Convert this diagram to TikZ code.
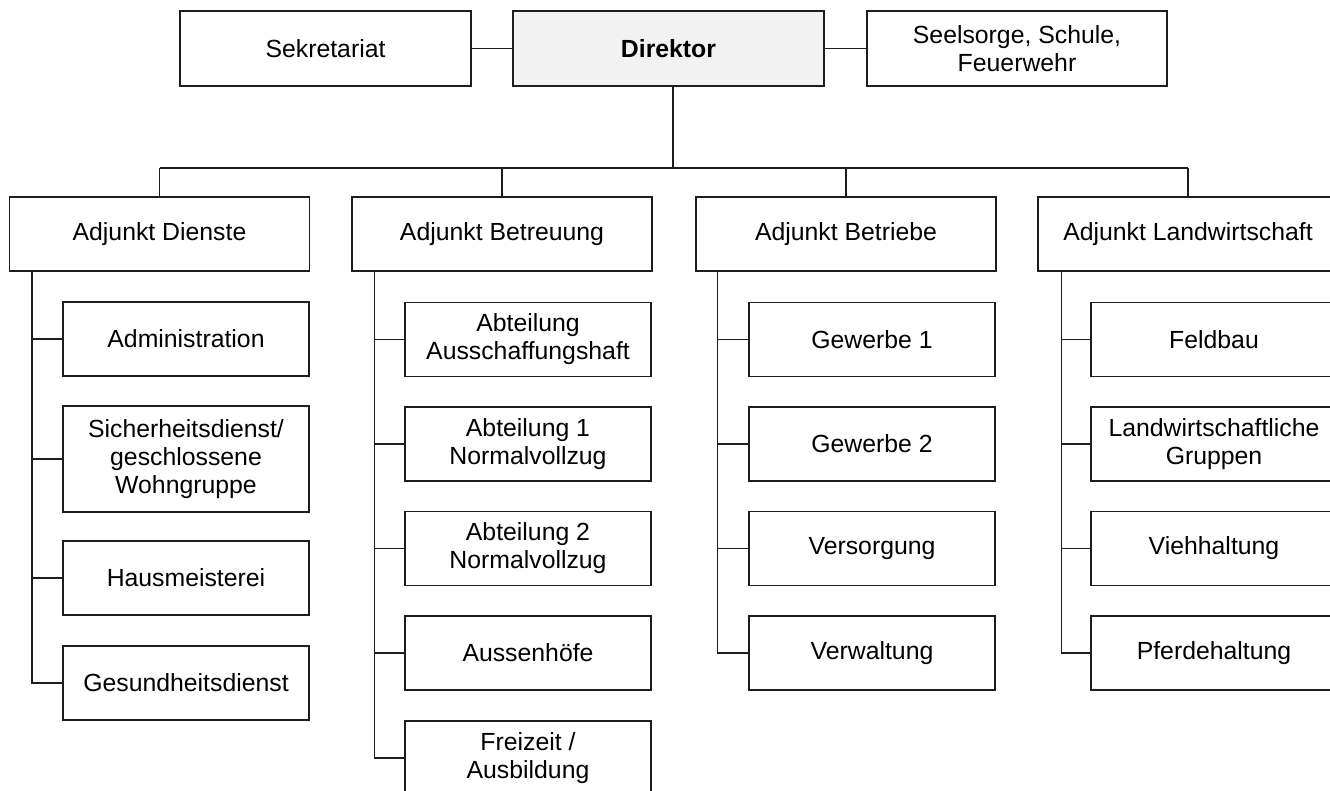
\documentclass[tikz,border=0pt]{standalone}
\usepackage{fontspec}
\setmainfont{Liberation Sans}
\definecolor{linec}{HTML}{1E1E1E}
\definecolor{headfill}{HTML}{F2F2F2}
\tikzset{
	box/.style={draw=linec, line width=1.2pt, fill=white, align=center, inner sep=2pt, minimum width=246pt, minimum height=74pt},
	adjbox/.style={box, minimum width=300pt},
	conn/.style={draw=linec, line width=1.2pt}
}
\begin{document}
\begin{tikzpicture}[x=1pt, y=-1pt, font=\fontsize{24.8}{28}\selectfont, line join=miter]
			\useasboundingbox (0,0) rectangle (1330,790);
			\clip (0,0) rectangle (1330,790);
			\node[box, minimum width=291pt, minimum height=75pt] (sek) at (325.5,48.5) {Sekretariat};
			\node[box, minimum width=311pt, minimum height=75pt, fill=headfill] (dir) at (668.5,48.5) {\bfseries Direktor};
			\node[box, minimum width=300pt, minimum height=75pt] (seel) at (1017,48.5) {Seelsorge, Schule,\\Feuerwehr};
			\draw[conn] (sek) -- (dir);
			\draw[conn] (dir) -- (seel);
			\node[adjbox] (a1) at (159.5,234) {Adjunkt Dienste};
			\node[adjbox] (a2) at (502,234) {Adjunkt Betreuung};
			\node[adjbox] (a3) at (846,234) {Adjunkt Betriebe};
			\node[adjbox] (a4) at (1188,234) {Adjunkt Landwirtschaft};
			\coordinate (bus) at (673,168);
			\draw[conn] (dir.south -| bus) -- (bus);
			\draw[conn] (a1.north |- bus) -- (a4.north |- bus);
			\foreach \n in {a1,a2,a3,a4} \draw[conn] (\n.north) -- (\n.north |- bus);
			\node[box] (d1) at (186,339) {Administration};
			\node[box, minimum height=106pt] (d2) at (186,459) {Sicherheitsdienst/\\geschlossene\\Wohngruppe};
			\node[box] (d3) at (186,578) {Hausmeisterei};
			\node[box] (d4) at (186,683) {Gesundheitsdienst};
			\node[box] (b1) at (528,339.5) {Abteilung\\Ausschaffungshaft};
			\node[box] (b2) at (528,444) {Abteilung 1\\Normalvollzug};
			\node[box] (b3) at (528,548.5) {Abteilung 2\\Normalvollzug};
			\node[box] (b4) at (528,653) {Aussenh\"ofe};
			\node[box] (b5) at (528,758) {Freizeit /\\Ausbildung};
			\node[box] (e1) at (872,339.5) {Gewerbe 1};
			\node[box] (e2) at (872,444) {Gewerbe 2};
			\node[box] (e3) at (872,548.5) {Versorgung};
			\node[box] (e4) at (872,653) {Verwaltung};
			\node[box] (l1) at (1214,339.5) {Feldbau};
			\node[box] (l2) at (1214,444) {Landwirtschaftliche\\Gruppen};
			\node[box] (l3) at (1214,548.5) {Viehhaltung};
			\node[box] (l4) at (1214,653) {Pferdehaltung};
			\coordinate (t1) at ([xshift=23pt]a1.south west);
			\coordinate (t2) at ([xshift=23pt]a2.south west);
			\coordinate (t3) at ([xshift=22pt]a3.south west);
			\coordinate (t4) at ([xshift=24pt]a4.south west);
			\draw[conn] (t1) |- (d4.west);
			\foreach \n in {d1,d2,d3} \draw[conn] (\n.west) -- (\n.west -| t1);
			\draw[conn] (t2) |- (b5.west);
			\foreach \n in {b1,b2,b3,b4} \draw[conn] (\n.west) -- (\n.west -| t2);
			\draw[conn] (t3) |- (e4.west);
			\foreach \n in {e1,e2,e3} \draw[conn] (\n.west) -- (\n.west -| t3);
			\draw[conn] (t4) |- (l4.west);
			\foreach \n in {l1,l2,l3} \draw[conn] (\n.west) -- (\n.west -| t4);
		\end{tikzpicture}
\end{document}
